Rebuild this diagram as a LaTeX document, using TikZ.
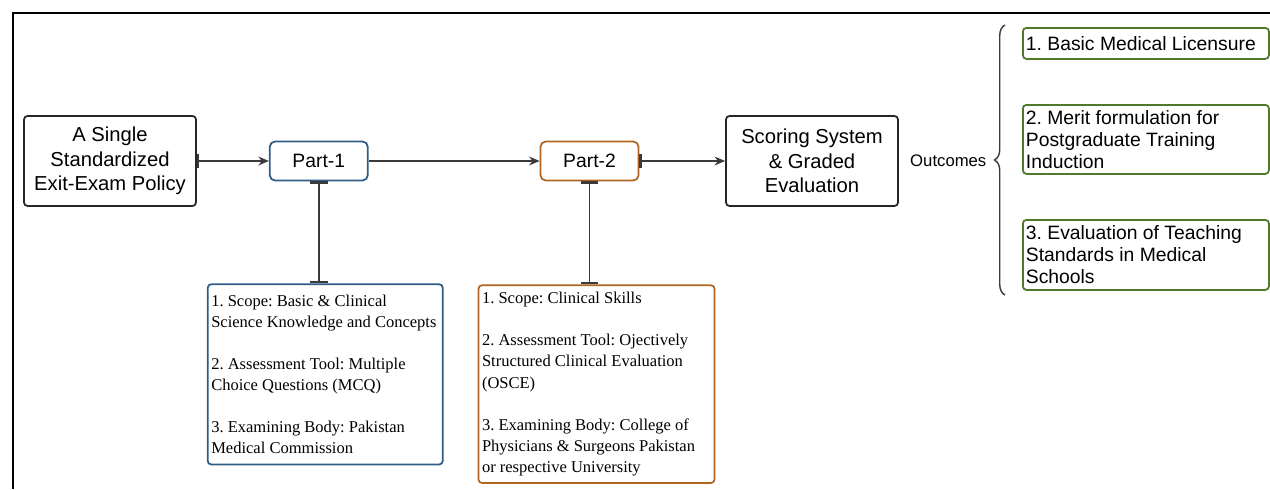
\documentclass[tikz,border=0pt]{standalone}
\usepackage{fontspec}
\setmainfont{Liberation Serif}
\setsansfont{Liberation Sans}
\usetikzlibrary{positioning,arrows.meta,decorations.pathreplacing}
\frenchspacing

\definecolor{partblue}{HTML}{2F5C85}
\definecolor{partbrown}{HTML}{B0651E}
\definecolor{outgreen}{HTML}{4F7A2C}
\definecolor{linegray}{HTML}{3A3A3A}

\begin{document}
\begin{tikzpicture}[
mainnode/.style={rectangle, rounded corners=2pt, draw=black!85, line width=1pt, minimum width=3.44cm, minimum height=1.8cm, align=center, font=\sffamily\fontsize{11.5}{14}\selectfont},
partnode/.style={rectangle, rounded corners=3pt, line width=1pt, fill=white, minimum width=1.96cm, minimum height=0.78cm, font=\sffamily\fontsize{11}{13}\selectfont},
infonode/.style={rectangle, rounded corners=2pt, line width=1pt, inner xsep=0.07cm, align=flush left, font=\fontsize{9.4}{12}\selectfont},
outnode/.style={rectangle, rounded corners=2pt, draw=outgreen, line width=1pt, inner xsep=0.06cm, inner ysep=0.08cm, text width=4.8cm, align=flush left, font=\sffamily\fontsize{11}{12.5}\selectfont},
flow/.style={-{Stealth[length=6pt,width=5pt]}, draw=linegray, line width=0.8pt},
flowbar/.style={{Bar[width=8pt,line width=1.2pt]}-{Stealth[length=6pt,width=5pt]}, draw=linegray, line width=0.8pt},
tbar/.style={{Bar[width=10pt,line width=1.5pt]}-{Bar[width=10pt,line width=1.5pt]}, draw=linegray, line width=1pt}
]
    \useasboundingbox (0,0) rectangle (25.4,-9.78);
    %Frame
    \draw[line width=1.3pt] (25.4,-0.26) -- (0.26,-0.26) -- (0.26,-9.78);

    %Nodes
    \node[mainnode]
        (policy)    at (2.2,-3.22)      {A Single\\Standardized\\Exit-Exam Policy};
    \node[partnode, draw=partblue]
        (part1)     [right=1.44cm of policy]  {Part-1};
    \node[partnode, draw=partbrown]
        (part2)     [right=3.42cm of part1]   {Part-2};
    \node[mainnode]
        (scoring)   at (16.24,-3.22)    {Scoring System\\\& Graded\\Evaluation};
    \node[font=\sffamily\fontsize{9.5}{11}\selectfont, inner sep=0pt]
        (outlabel)  [right=0.22cm of scoring]  {Outcomes};

    \node[infonode, draw=partblue, text width=4.56cm, inner ysep=0.21cm]
        (info1)     [below=2.04cm of part1, xshift=0.13cm]
        {1. Scope:\ Basic \& Clinical\\Science Knowledge and Concepts\\[12pt]
         2. Assessment Tool: Multiple\\Choice Questions (MCQ)\\[12pt]
         3. Examining Body: Pakistan\\Medical Commission};
    \node[infonode, draw=partbrown, text width=4.58cm, inner ysep=0.14cm]
        (info2)     [below=2.06cm of part2, xshift=0.14cm]
        {1. Scope:\ Clinical Skills\\[12pt]
         2. Assessment Tool: Ojectively\\Structured Clinical Evaluation\\(OSCE)\\[12pt]
         3. Examining Body: College of\\Physicians \& Surgeons Pakistan\\or respective University};

    \node[outnode, anchor=north west, minimum height=0.62cm]
        (out1)      at (20.44,-0.54)    {1.\ Basic Medical Licensure};
    \node[outnode, anchor=north west, minimum height=1.38cm]
        (out2)      at (20.44,-2.08)    {2. Merit formulation for\\Postgraduate Training\\Induction};
    \node[outnode, anchor=north west, minimum height=1.4cm]
        (out3)      at (20.44,-4.38)    {3. Evaluation of Teaching\\Standards in Medical\\Schools};

    \coordinate (bracetop) at (20.1,-0.5);
    \coordinate (bracebot) at (20.1,-5.9);

    %Lines
    \draw[flowbar] (policy.east) -- (part1.west);
    \draw[flow] (part1.east) -- (part2.west);
    \draw[flowbar] (part2.east) -- (scoring.west);
    \draw[tbar] (part1.south) -- (part1.south |- info1.north);
    \draw[tbar] (part2.south) -- (part2.south |- info2.north);
    \draw[decorate, decoration={brace, amplitude=6pt}, line width=0.8pt, draw=linegray]
        (bracebot) -- (bracetop);
\end{tikzpicture}
\end{document}
